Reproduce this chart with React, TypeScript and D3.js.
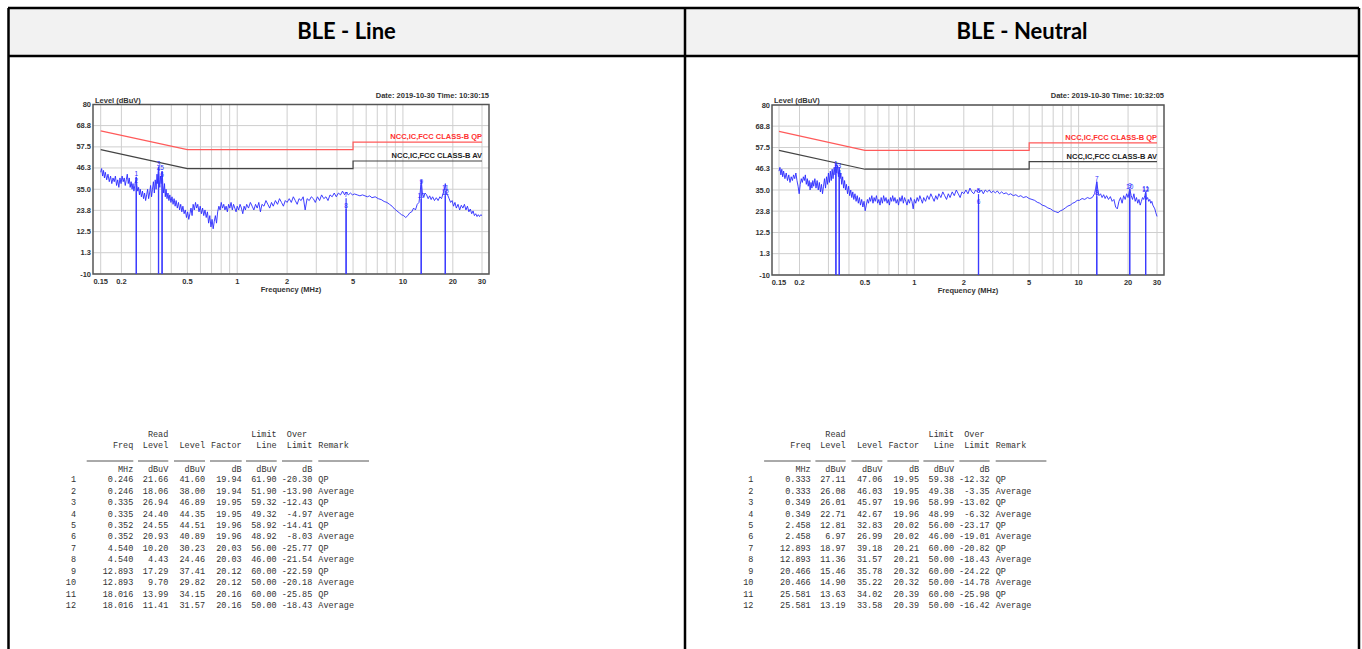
import React, { useRef, useEffect } from "react";
import * as d3 from "d3";

const W = 1362;
const H = 649;

// axis ticks
const yTicks = [80, 68.8, 57.5, 46.3, 35.0, 23.8, 12.5, 1.3, -10];
const yTickLabels = ["80", "68.8", "57.5", "46.3", "35.0", "23.8", "12.5", "1.3", "-10"];
const xTicks = [0.15, 0.2, 0.5, 1, 2, 5, 10, 20, 30];
const xTickLabels = ["0.15", "0.2", "0.5", "1", "2", "5", "10", "20", "30"];
const xGrid = [0.15, 0.2, 0.3, 0.4, 0.5, 0.6, 0.7, 0.8, 0.9, 1, 2, 3, 4, 5, 6, 7, 8, 9, 10, 20, 30];

// limit lines (NCC,IC,FCC class B)
const limitFreq = [0.15, 0.5, 5, 5, 30];
const qpLimit = [66, 56, 56, 60, 60];
const avLimit = [56, 46, 46, 50, 50];

// spectrum traces [MHz, dBuV]
const lineTrace = [
  [0.15, 44], [0.152, 46], [0.154, 42], [0.156, 45], [0.158, 41], [0.16, 44], [0.163, 40], [0.166, 43],
  [0.169, 39], [0.172, 42], [0.175, 38], [0.178, 41], [0.181, 39], [0.184, 42], [0.187, 37], [0.19, 40],
  [0.193, 36], [0.196, 41], [0.199, 38], [0.202, 42], [0.205, 39], [0.208, 41], [0.211, 37], [0.214, 40],
  [0.217, 43], [0.22, 38], [0.223, 41], [0.226, 36], [0.229, 39], [0.232, 35], [0.235, 38], [0.238, 34],
  [0.241, 37], [0.244, 40], [0.246, 41.5], [0.248, 37], [0.251, 34], [0.254, 36], [0.257, 32], [0.26, 35],
  [0.264, 31], [0.268, 34], [0.272, 30], [0.276, 33], [0.28, 29], [0.284, 32], [0.288, 35], [0.292, 30],
  [0.296, 33], [0.3, 37], [0.304, 31], [0.308, 35], [0.312, 39], [0.316, 33], [0.32, 40], [0.324, 35],
  [0.328, 43], [0.331, 38], [0.335, 46.9], [0.338, 40], [0.341, 36], [0.344, 42], [0.348, 38], [0.352, 44.5],
  [0.356, 37], [0.36, 33], [0.364, 38], [0.368, 31], [0.372, 35], [0.377, 30], [0.382, 33], [0.387, 29],
  [0.392, 32], [0.398, 28], [0.404, 31], [0.41, 27], [0.416, 30], [0.422, 26], [0.428, 29], [0.435, 25],
  [0.442, 28], [0.449, 24], [0.456, 27], [0.463, 23], [0.47, 26], [0.478, 22], [0.486, 24], [0.494, 20],
  [0.502, 23], [0.51, 19], [0.518, 22], [0.526, 25], [0.534, 21], [0.542, 27], [0.551, 24], [0.56, 28],
  [0.569, 25], [0.578, 27], [0.588, 23], [0.598, 26], [0.608, 22], [0.618, 25], [0.628, 21], [0.639, 24],
  [0.65, 20], [0.661, 23], [0.672, 17], [0.683, 21], [0.694, 15], [0.705, 19], [0.716, 14], [0.727, 18],
  [0.738, 21], [0.75, 17], [0.762, 23], [0.775, 26], [0.788, 24], [0.801, 28], [0.815, 25], [0.829, 27],
  [0.843, 24], [0.857, 26], [0.872, 23], [0.887, 27], [0.902, 25], [0.918, 28], [0.934, 24], [0.95, 27],
  [0.967, 25], [0.984, 23], [1.0, 26], [1.02, 24], [1.04, 27], [1.06, 25], [1.08, 22], [1.1, 26],
  [1.12, 24], [1.14, 27], [1.17, 25], [1.2, 28], [1.23, 26], [1.26, 24], [1.29, 27], [1.32, 25],
  [1.35, 28], [1.38, 23], [1.41, 27], [1.45, 26], [1.49, 29], [1.53, 27], [1.57, 25], [1.61, 28],
  [1.65, 26], [1.7, 29], [1.75, 27], [1.8, 30], [1.85, 28], [1.9, 26], [1.95, 29], [2.0, 28],
  [2.06, 30], [2.12, 28], [2.18, 31], [2.24, 29], [2.3, 27], [2.36, 30], [2.43, 29], [2.5, 31],
  [2.57, 24], [2.64, 30], [2.72, 29], [2.8, 31], [2.88, 30], [2.96, 28], [3.05, 31], [3.14, 29],
  [3.23, 32], [3.33, 30], [3.43, 31], [3.53, 29], [3.63, 32], [3.74, 31], [3.85, 33], [3.96, 31],
  [4.08, 33], [4.2, 32], [4.32, 34], [4.45, 32], [4.54, 33.5], [4.68, 32], [4.82, 33], [4.96, 32],
  [5.1, 32.5], [5.3, 32], [5.5, 31.5], [5.7, 32], [5.9, 31.5], [6.1, 31], [6.3, 31.5], [6.5, 30.5],
  [6.8, 31], [7.1, 30], [7.4, 29.5], [7.7, 28.5], [8.0, 28], [8.3, 27], [8.6, 26], [8.9, 24.5],
  [9.2, 23.5], [9.5, 22.5], [9.8, 21.5], [10.1, 21], [10.4, 20], [10.7, 21], [11.0, 22.5], [11.3, 23],
  [11.6, 25], [11.9, 24], [12.2, 27], [12.5, 28], [12.7, 33], [12.893, 40], [13.1, 33], [13.3, 31],
  [13.6, 33], [13.9, 32], [14.2, 30], [14.5, 31.5], [14.8, 29.5], [15.1, 31], [15.5, 29], [15.9, 30.5],
  [16.3, 29], [16.7, 31], [17.1, 30], [17.5, 33], [17.8, 35], [18.016, 38], [18.3, 33], [18.6, 32],
  [19.0, 30], [19.4, 28], [19.8, 29], [20.2, 26], [20.6, 28], [21.0, 25], [21.5, 27], [22.0, 24],
  [22.5, 26.5], [23.0, 25], [23.5, 27], [24.0, 24], [24.5, 26], [25.0, 23], [25.5, 24.5], [26.0, 22],
  [26.5, 23.5], [27.0, 21], [27.5, 22], [28.0, 20.5], [28.5, 21.5], [29.0, 20.5], [29.5, 21.5], [30.0, 21],
];

const neutralTrace = [
  [0.15, 45], [0.152, 47], [0.154, 43], [0.156, 46], [0.158, 42], [0.16, 45], [0.163, 41], [0.166, 44],
  [0.169, 40], [0.172, 43], [0.175, 39], [0.178, 42], [0.181, 40], [0.184, 43], [0.187, 41], [0.19, 44],
  [0.193, 40], [0.196, 37], [0.199, 33], [0.202, 38], [0.205, 41], [0.208, 39], [0.211, 42], [0.214, 40],
  [0.217, 43], [0.22, 38], [0.223, 41], [0.226, 37], [0.229, 40], [0.232, 35], [0.235, 39], [0.238, 36],
  [0.241, 40], [0.244, 37], [0.248, 41], [0.252, 36], [0.256, 40], [0.26, 35], [0.264, 39], [0.268, 34],
  [0.272, 38], [0.276, 33], [0.28, 37], [0.284, 41], [0.288, 36], [0.292, 42], [0.296, 38], [0.3, 44],
  [0.304, 39], [0.308, 45], [0.312, 40], [0.316, 46], [0.32, 41], [0.325, 47], [0.329, 43], [0.333, 49],
  [0.337, 44], [0.341, 48], [0.345, 42], [0.349, 47], [0.353, 41], [0.357, 44], [0.361, 38], [0.366, 42],
  [0.371, 36], [0.376, 40], [0.381, 35], [0.386, 38], [0.392, 33], [0.398, 37], [0.404, 32], [0.41, 35],
  [0.416, 31], [0.422, 34], [0.428, 30], [0.435, 33], [0.442, 29], [0.449, 32], [0.456, 28], [0.463, 31],
  [0.47, 27], [0.478, 30], [0.486, 26], [0.494, 29], [0.502, 24], [0.51, 27], [0.518, 30], [0.526, 28],
  [0.534, 31], [0.542, 29], [0.551, 32], [0.56, 28], [0.569, 31], [0.578, 29], [0.588, 32], [0.598, 28],
  [0.608, 30], [0.618, 27], [0.628, 31], [0.639, 28], [0.65, 32], [0.661, 29], [0.672, 31], [0.683, 28],
  [0.694, 30], [0.705, 27], [0.716, 31], [0.727, 29], [0.738, 32], [0.75, 29], [0.762, 31], [0.775, 28],
  [0.788, 30], [0.801, 27], [0.815, 31], [0.829, 29], [0.843, 32], [0.857, 28], [0.872, 31], [0.887, 29],
  [0.902, 27], [0.918, 30], [0.934, 28], [0.95, 31], [0.967, 29], [0.984, 25], [1.0, 30], [1.02, 28],
  [1.04, 31], [1.06, 29], [1.08, 32], [1.1, 30], [1.12, 28], [1.14, 31], [1.17, 29], [1.2, 32],
  [1.23, 30], [1.26, 33], [1.29, 31], [1.32, 29], [1.35, 32], [1.38, 30], [1.41, 33], [1.45, 31],
  [1.49, 34], [1.53, 32], [1.57, 30], [1.61, 33], [1.65, 31], [1.7, 34], [1.75, 32], [1.8, 35],
  [1.85, 33], [1.9, 31], [1.95, 34], [2.0, 33], [2.06, 35], [2.12, 33], [2.18, 36], [2.24, 34],
  [2.3, 33], [2.36, 35], [2.42, 34], [2.458, 35.5], [2.5, 34], [2.56, 35], [2.63, 33], [2.7, 35],
  [2.78, 34], [2.86, 35], [2.94, 33.5], [3.02, 34.5], [3.11, 33.5], [3.2, 34.5], [3.3, 33], [3.4, 34],
  [3.5, 33], [3.62, 33.5], [3.74, 32.5], [3.86, 33], [4.0, 32], [4.15, 32.5], [4.3, 31.5], [4.45, 32],
  [4.6, 31], [4.8, 31.5], [5.0, 30.5], [5.2, 30], [5.4, 29.5], [5.6, 28.5], [5.8, 28], [6.0, 27],
  [6.25, 26.5], [6.5, 25.5], [6.75, 25], [7.0, 24], [7.25, 23.5], [7.5, 23], [7.75, 24], [8.0, 24.5],
  [8.3, 25.5], [8.6, 26.5], [8.9, 27], [9.2, 28], [9.5, 28.5], [9.8, 29.5], [10.1, 29.5], [10.5, 30.5],
  [10.9, 30], [11.3, 31], [11.7, 30.5], [12.1, 31], [12.5, 33], [12.7, 36], [12.893, 39.5], [13.1, 35],
  [13.3, 32], [13.6, 33], [13.9, 31], [14.2, 32.5], [14.5, 30.5], [14.8, 32], [15.2, 30], [15.6, 31.5],
  [16.0, 29], [16.4, 30], [16.8, 26], [17.2, 25], [17.6, 29], [18.0, 31], [18.4, 28], [18.8, 32],
  [19.2, 30], [19.6, 33], [20.0, 31], [20.466, 35.5], [20.9, 32], [21.3, 30], [21.7, 33], [22.1, 29],
  [22.5, 31], [22.9, 28], [23.3, 30], [23.7, 27], [24.1, 29], [24.5, 31], [24.9, 30], [25.3, 32],
  [25.581, 34], [25.9, 30], [26.3, 31], [26.7, 29], [27.1, 30], [27.5, 28], [27.9, 29], [28.3, 27],
  [28.7, 26], [29.1, 25], [29.5, 23], [30.0, 21],
];

// measurement tables
const lineFreq = [0.246, 0.246, 0.335, 0.335, 0.352, 0.352, 4.54, 4.54, 12.893, 12.893, 18.016, 18.016];
const lineRead = [21.66, 18.06, 26.94, 24.4, 24.55, 20.93, 10.2, 4.43, 17.29, 9.7, 13.99, 11.41];
const lineLevel = [41.6, 38.0, 46.89, 44.35, 44.51, 40.89, 30.23, 24.46, 37.41, 29.82, 34.15, 31.57];
const lineFactor = [19.94, 19.94, 19.95, 19.95, 19.96, 19.96, 20.03, 20.03, 20.12, 20.12, 20.16, 20.16];
const lineLimit = [61.9, 51.9, 59.32, 49.32, 58.92, 48.92, 56.0, 46.0, 60.0, 50.0, 60.0, 50.0];
const lineOver = [-20.3, -13.9, -12.43, -4.97, -14.41, -8.03, -25.77, -21.54, -22.59, -20.18, -25.85, -18.43];

const neutralFreq = [0.333, 0.333, 0.349, 0.349, 2.458, 2.458, 12.893, 12.893, 20.466, 20.466, 25.581, 25.581];
const neutralRead = [27.11, 26.08, 26.01, 22.71, 12.81, 6.97, 18.97, 11.36, 15.46, 14.9, 13.63, 13.19];
const neutralLevel = [47.06, 46.03, 45.97, 42.67, 32.83, 26.99, 39.18, 31.57, 35.78, 35.22, 34.02, 33.58];
const neutralFactor = [19.95, 19.95, 19.96, 19.96, 20.02, 20.02, 20.21, 20.21, 20.32, 20.32, 20.39, 20.39];
const neutralLimit = [59.38, 49.38, 58.99, 48.99, 56.0, 46.0, 60.0, 50.0, 60.0, 50.0, 60.0, 50.0];
const neutralOver = [-12.32, -3.35, -13.02, -6.32, -23.17, -19.01, -20.82, -18.43, -24.22, -14.78, -25.98, -16.42];

const remarks = ["QP", "Average", "QP", "Average", "QP", "Average", "QP", "Average", "QP", "Average", "QP", "Average"];

const panels = [
  {
    title: "BLE - Line",
    cx: 346.5,
    frame: { x0: 93, x1: 489, y0: 104.5, y1: 274 },
    xr: [100.7, 482],
    tx: 0,
    date: "Date: 2019-10-30  Time: 10:30:15",
    trace: lineTrace,
    freq: lineFreq, read: lineRead, level: lineLevel, factor: lineFactor, limit: lineLimit, over: lineOver,
  },
  {
    title: "BLE - Neutral",
    cx: 1022,
    frame: { x0: 772, x1: 1164, y0: 105, y1: 275 },
    xr: [779, 1157],
    tx: 677.4,
    date: "Date: 2019-10-30  Time: 10:32:05",
    trace: neutralTrace,
    freq: neutralFreq, read: neutralRead, level: neutralLevel, factor: neutralFactor, limit: neutralLimit, over: neutralOver,
  },
];

const chartFont = "'Liberation Sans', Arial, sans-serif";
const monoFont = "'Liberation Mono', 'DejaVu Sans Mono', monospace";

function drawPanel(svg, p) {
  const f = p.frame;
  const x = d3.scaleLog().domain([0.15, 30]).range(p.xr);
  const y = d3.scaleLinear().domain([-10, 80]).range([f.y1, f.y0]);
  const g = svg.append("g");

  // grid
  g.selectAll(".vg").data(xGrid).enter().append("line")
    .attr("x1", d => x(d)).attr("x2", d => x(d))
    .attr("y1", f.y0).attr("y2", f.y1)
    .attr("stroke", "#cfcfcf").attr("stroke-width", 1);
  g.selectAll(".hg").data(yTicks).enter().append("line")
    .attr("x1", f.x0).attr("x2", f.x1)
    .attr("y1", d => y(d)).attr("y2", d => y(d))
    .attr("stroke", "#cfcfcf").attr("stroke-width", 1);

  // frame
  g.append("rect")
    .attr("x", f.x0).attr("y", f.y0)
    .attr("width", f.x1 - f.x0).attr("height", f.y1 - f.y0)
    .attr("fill", "none").attr("stroke", "#555").attr("stroke-width", 1.5);

  // tick labels
  g.selectAll(".yl").data(yTicks).enter().append("text")
    .attr("x", f.x0 - 2).attr("y", d => y(d) + 2.5)
    .attr("text-anchor", "end")
    .attr("font-family", chartFont).attr("font-size", 7.5).attr("font-weight", "bold")
    .attr("fill", "#333")
    .text((d, i) => yTickLabels[i]);
  g.selectAll(".xl").data(xTicks).enter().append("text")
    .attr("x", d => x(d)).attr("y", f.y1 + 10)
    .attr("text-anchor", "middle")
    .attr("font-family", chartFont).attr("font-size", 7.5).attr("font-weight", "bold")
    .attr("fill", "#333")
    .text((d, i) => xTickLabels[i]);

  g.append("text")
    .attr("x", f.x0 + 2).attr("y", f.y0 - 2)
    .attr("font-family", chartFont).attr("font-size", 7.5).attr("font-weight", "bold")
    .attr("fill", "#333").text("Level (dBuV)");
  g.append("text")
    .attr("x", (f.x0 + f.x1) / 2).attr("y", f.y1 + 18)
    .attr("text-anchor", "middle")
    .attr("font-family", chartFont).attr("font-size", 7.5).attr("font-weight", "bold")
    .attr("fill", "#333").text("Frequency (MHz)");
  g.append("text")
    .attr("x", f.x1).attr("y", f.y0 - 7)
    .attr("text-anchor", "end")
    .attr("font-family", chartFont).attr("font-size", 7.5).attr("font-weight", "bold")
    .attr("fill", "#333").text(p.date);

  // limits
  const limLine = d3.line()
    .x((d, i) => x(limitFreq[i]))
    .y(d => y(d));
  g.append("path").attr("d", limLine(qpLimit))
    .attr("fill", "none").attr("stroke", "#ff5a5a").attr("stroke-width", 1.2);
  g.append("path").attr("d", limLine(avLimit))
    .attr("fill", "none").attr("stroke", "#444").attr("stroke-width", 1.2);
  g.append("text")
    .attr("x", x(30)).attr("y", y(60) - 3)
    .attr("text-anchor", "end")
    .attr("font-family", chartFont).attr("font-size", 7.5).attr("font-weight", "bold")
    .attr("fill", "#ff3030").text("NCC,IC,FCC CLASS-B QP");
  g.append("text")
    .attr("x", x(30)).attr("y", y(50) - 3)
    .attr("text-anchor", "end")
    .attr("font-family", chartFont).attr("font-size", 7.5).attr("font-weight", "bold")
    .attr("fill", "#222").text("NCC,IC,FCC CLASS-B AV");

  // trace
  const traceLine = d3.line()
    .x(d => x(d[0]))
    .y(d => y(d[1]));
  g.append("path").attr("d", traceLine(p.trace))
    .attr("fill", "none").attr("stroke", "#2a2aff").attr("stroke-width", 0.9);

  // markers
  g.selectAll(".mk").data(p.freq).enter().append("line")
    .attr("x1", d => x(d)).attr("x2", d => x(d))
    .attr("y1", (d, i) => y(p.level[i])).attr("y2", f.y1)
    .attr("stroke", "#3b3bff").attr("stroke-width", 1.2);
  g.selectAll(".ml").data(p.freq).enter().append("text")
    .attr("x", d => x(d)).attr("y", (d, i) => y(p.level[i]) - 1)
    .attr("text-anchor", "middle")
    .attr("font-family", chartFont).attr("font-size", 6.5)
    .attr("fill", "#2a2aff")
    .text((d, i) => i + 1);

  // table
  const t = g.append("g").attr("transform", `translate(${p.tx},0)`)
    .attr("font-family", monoFont).attr("font-size", 8.5).attr("fill", "#333");
  const colR = [133.3, 168.3, 205, 241.7, 276.7, 312.3];
  const txt = (xx, yy, s, anchor = "end") =>
    t.append("text").attr("x", xx).attr("y", yy).attr("text-anchor", anchor)
      .attr("xml:space", "preserve").text(s);

  txt(colR[1], 437, "Read");
  txt(colR[4], 437, "Limit");
  txt(colR[5], 437, "Over ");
  txt(colR[0], 448, "Freq");
  txt(colR[1], 448, "Level");
  txt(colR[2], 448, "Level");
  txt(colR[3], 448, "Factor");
  txt(colR[4], 448, "Line");
  txt(colR[5], 448, "Limit");
  txt(318.3, 448, "Remark", "start");

  const segs = [[86.7, 133.3], [138, 168.3], [174, 205], [210, 241.7], [246, 276.7], [282, 312.3], [318.3, 369]];
  t.selectAll(".ul").data(segs).enter().append("line")
    .attr("x1", d => d[0]).attr("x2", d => d[1])
    .attr("y1", 461).attr("y2", 461)
    .attr("stroke", "#555").attr("stroke-width", 1);

  const units = ["MHz", "dBuV", "dBuV", "dB", "dBuV", "dB"];
  units.forEach((u, i) => txt(colR[i], 472, u));

  p.freq.forEach((fr, i) => {
    const yy = 482.3 + i * 11.43;
    txt(76, yy, String(i + 1));
    txt(colR[0], yy, fr.toFixed(3));
    txt(colR[1], yy, p.read[i].toFixed(2));
    txt(colR[2], yy, p.level[i].toFixed(2));
    txt(colR[3], yy, p.factor[i].toFixed(2));
    txt(colR[4], yy, p.limit[i].toFixed(2));
    txt(colR[5], yy, p.over[i].toFixed(2));
    txt(318.3, yy, remarks[i], "start");
  });
}

const App = () => {
  const svgRef = useRef(null);

  useEffect(() => {
    const svg = d3.select(svgRef.current);
    svg.selectAll("*").remove();

    // outer table with header row
    svg.append("rect")
      .attr("x", 8).attr("y", 8).attr("width", 1351).attr("height", 48)
      .attr("fill", "#f2f2f2");
    const border = [
      [8, 8, 1359, 8], [8, 56, 1359, 56],
      [8.5, 8, 8.5, H], [685, 8, 685, H], [1359, 8, 1359, H],
    ];
    svg.selectAll(".bd").data(border).enter().append("line")
      .attr("x1", d => d[0]).attr("y1", d => d[1])
      .attr("x2", d => d[2]).attr("y2", d => d[3])
      .attr("stroke", "#000").attr("stroke-width", 2.5);

    panels.forEach(p => {
      svg.append("text")
        .attr("x", p.cx).attr("y", 39)
        .attr("text-anchor", "middle")
        .attr("font-family", "Lato, 'Open Sans', sans-serif")
        .attr("font-size", 22).attr("font-weight", "bold")
        .attr("fill", "#000")
        .text(p.title);
      drawPanel(svg, p);
    });
  }, []);

  return (
    <div style={{ position: "absolute", left: 0, top: 0 }}>
      <svg ref={svgRef} width={W} height={H} style={{ display: "block", background: "#fff" }}></svg>
    </div>
  );
};

export default App;
